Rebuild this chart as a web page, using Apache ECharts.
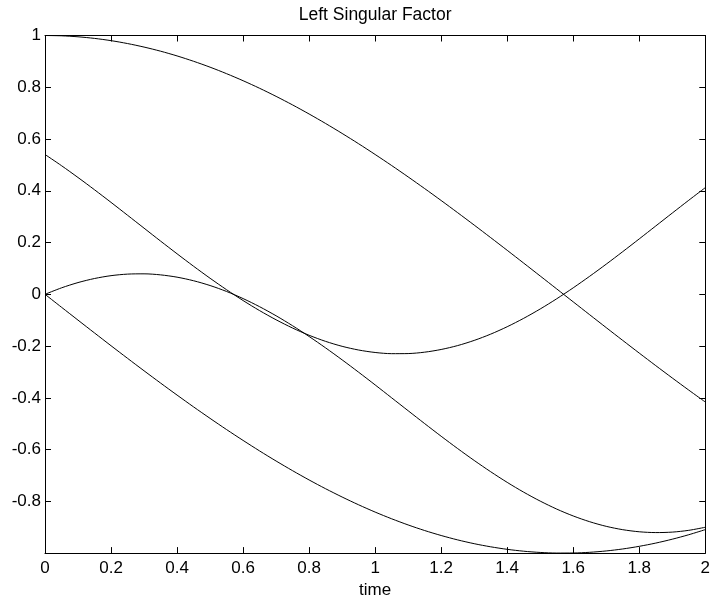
<!DOCTYPE html>
<html>
<head>
<meta charset="utf-8">
<script src="https://cdn.jsdelivr.net/npm/echarts@6/dist/echarts.min.js"></script>
<style>
  html, body { margin: 0; padding: 0; background: #fff; }
  #chart { width: 713px; height: 604px; }
</style>
</head>
<body>
<div id="chart"></div>
<script>
// sample times
const time = [
  0.00, 0.05, 0.10, 0.15, 0.20, 0.25, 0.30, 0.35, 0.40, 0.45,
  0.50, 0.55, 0.60, 0.65, 0.70, 0.75, 0.80, 0.85, 0.90, 0.95,
  1.00, 1.05, 1.10, 1.15, 1.20, 1.25, 1.30, 1.35, 1.40, 1.45,
  1.50, 1.55, 1.60, 1.65, 1.70, 1.75, 1.80, 1.85, 1.90, 1.95, 2.00
];

// factor components
const factor1 = [
  1.0000, 0.9988, 0.9950, 0.9888, 0.9801, 0.9689, 0.9553, 0.9394, 0.9211, 0.9004,
  0.8776, 0.8525, 0.8253, 0.7961, 0.7648, 0.7317, 0.6967, 0.6600, 0.6216, 0.5817,
  0.5403, 0.4976, 0.4536, 0.4085, 0.3624, 0.3153, 0.2675, 0.2190, 0.1700, 0.1205,
  0.0707, 0.0208, -0.0292, -0.0791, -0.1288, -0.1782, -0.2272, -0.2756, -0.3233, -0.3702, -0.4161
];
const factor2 = [
  0.0000, -0.0500, -0.0998, -0.1494, -0.1987, -0.2474, -0.2955, -0.3429, -0.3894, -0.4350,
  -0.4794, -0.5227, -0.5646, -0.6052, -0.6442, -0.6816, -0.7174, -0.7513, -0.7833, -0.8134,
  -0.8415, -0.8674, -0.8912, -0.9128, -0.9320, -0.9490, -0.9636, -0.9757, -0.9854, -0.9927,
  -0.9975, -0.9998, -0.9996, -0.9969, -0.9917, -0.9840, -0.9738, -0.9613, -0.9463, -0.9290, -0.9093
];
const factor3 = [
  0.5403, 0.4970, 0.4513, 0.4039, 0.3552, 0.3055, 0.2556, 0.2057, 0.1566, 0.1085,
  0.0620, 0.0177, -0.0241, -0.0630, -0.0985, -0.1304, -0.1583, -0.1819, -0.2010, -0.2153,
  -0.2248, -0.2294, -0.2290, -0.2236, -0.2132, -0.1981, -0.1782, -0.1539, -0.1253, -0.0928,
  -0.0567, -0.0173, 0.0250, 0.0698, 0.1165, 0.1648, 0.2141, 0.2640, 0.3139, 0.3634, 0.4120
];
const factor4 = [
  0.0000, 0.0249, 0.0453, 0.0610, 0.0720, 0.0780, 0.0791, 0.0751, 0.0662, 0.0524,
  0.0339, 0.0109, -0.0165, -0.0479, -0.0830, -0.1215, -0.1630, -0.2071, -0.2533, -0.3011,
  -0.3501, -0.4000, -0.4499, -0.4996, -0.5485, -0.5961, -0.6420, -0.6856, -0.7267, -0.7646,
  -0.7991, -0.8299, -0.8565, -0.8788, -0.8966, -0.9095, -0.9176, -0.9207, -0.9189, -0.9120, -0.9002
];

const xTicks = [0, 0.2, 0.4, 0.6, 0.8, 1, 1.2, 1.4, 1.6, 1.8, 2];
const yTicks = [-0.8, -0.6, -0.4, -0.2, 0, 0.2, 0.4, 0.6, 0.8, 1];

const FONT = '"Liberation Sans", Arial, Helvetica, sans-serif';
const pairs = ys => time.map((t, i) => [t, ys[i]]);

const lineAxis = { show: true, onZero: false, lineStyle: { color: '#000', width: 1 } };
const tickIn = { show: true, inside: true, length: 6, lineStyle: { color: '#000', width: 1 } };

function fmt(v) {
  const r = Math.round(v * 10) / 10;
  return String(r);
}

const chart = echarts.init(document.getElementById('chart'), null, { renderer: 'canvas' });

const mkSeries = ys => ({
  type: 'line',
  data: pairs(ys),
  showSymbol: false,
  smooth: 0.3,
  lineStyle: { color: '#000', width: 1 },
  emphasis: { disabled: true },
  silent: true,
  animation: false
});

chart.setOption({
  animation: false,
  backgroundColor: '#fff',
  grid: { left: 45, right: 4, top: 35.5, bottom: 43.5, containLabel: false },
  xAxis: [
    {
      type: 'value', min: 0, max: 2, interval: 0.2, position: 'bottom',
      axisLine: lineAxis, axisTick: tickIn, splitLine: { show: false },
      axisLabel: {
        color: '#000', fontSize: 17, fontFamily: FONT, margin: 7,
        formatter: v => xTicks.some(t => Math.abs(t - v) < 1e-9) ? fmt(v) : ''
      },
      name: 'time', nameLocation: 'middle', nameGap: 26,
      nameTextStyle: { color: '#000', fontSize: 17, fontFamily: FONT }
    },
    {
      type: 'value', min: 0, max: 2, interval: 0.2, position: 'top',
      axisLine: lineAxis, axisTick: tickIn, splitLine: { show: false },
      axisLabel: { show: false },
      name: 'Left Singular Factor', nameLocation: 'middle', nameGap: 11,
      nameTextStyle: { color: '#000', fontSize: 17.5, fontFamily: FONT }
    }
  ],
  yAxis: [
    {
      type: 'value', min: -1, max: 1, interval: 0.2, position: 'left',
      axisLine: lineAxis, axisTick: tickIn, splitLine: { show: false },
      axisLabel: {
        color: '#000', fontSize: 17, fontFamily: FONT, margin: 4,
        formatter: v => yTicks.some(t => Math.abs(t - v) < 1e-9) ? fmt(v) : ''
      }
    },
    {
      type: 'value', min: -1, max: 1, interval: 0.2, position: 'right',
      axisLine: lineAxis, axisTick: tickIn, splitLine: { show: false },
      axisLabel: { show: false }
    }
  ],
  series: [
    mkSeries(factor1),
    mkSeries(factor2),
    mkSeries(factor3),
    mkSeries(factor4)
  ]
});
</script>
</body>
</html>
